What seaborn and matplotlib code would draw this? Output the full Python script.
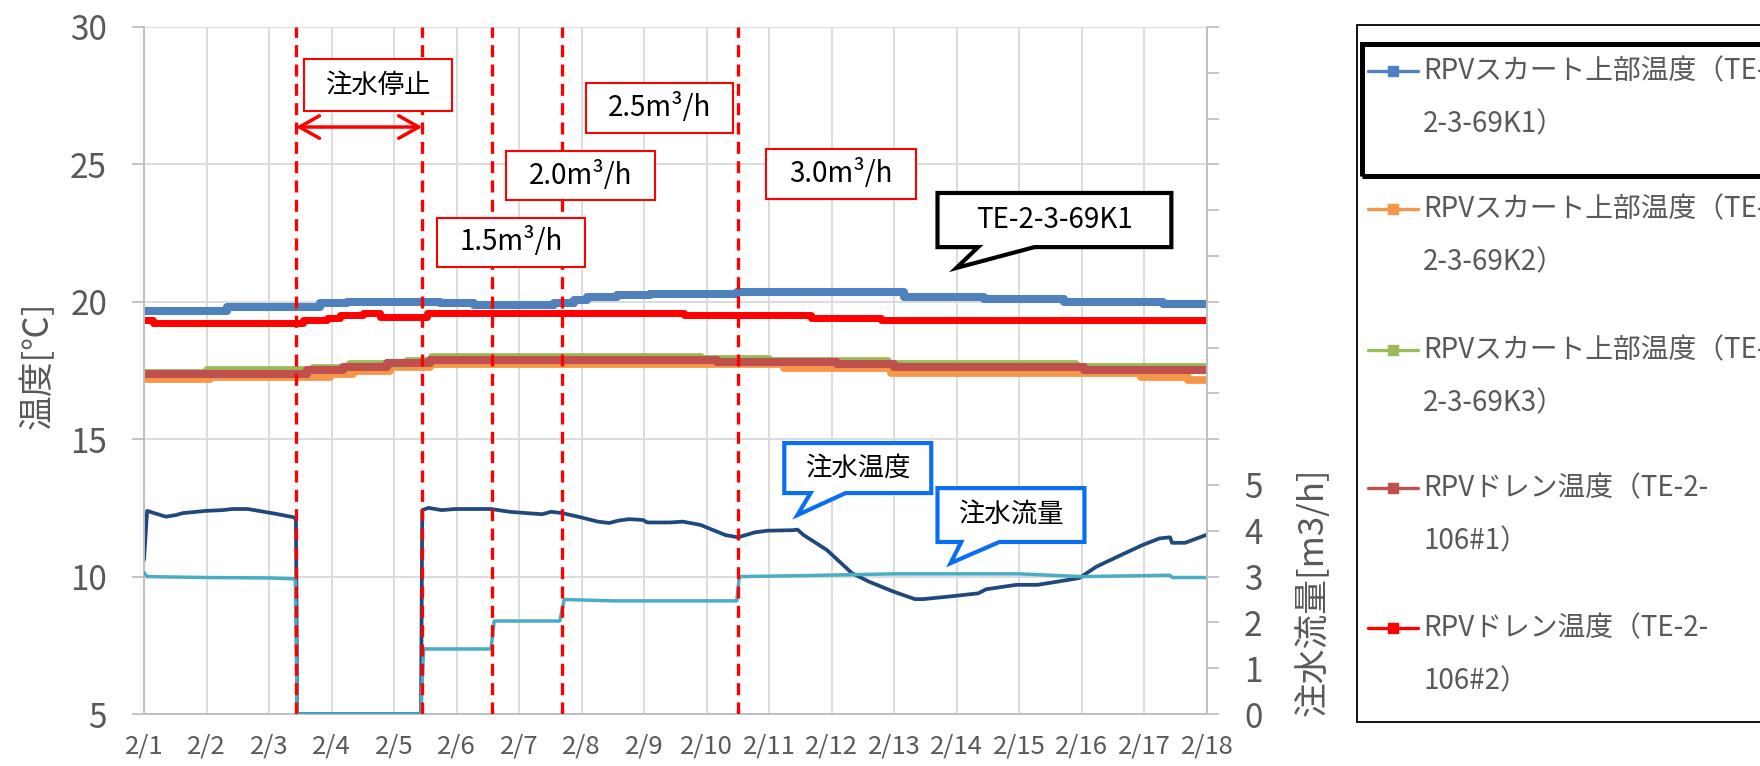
import numpy as np
import pandas as pd
import matplotlib
matplotlib.use('Agg')
import matplotlib.pyplot as plt
import seaborn as sns
from matplotlib.patches import Rectangle, Polygon
from matplotlib.lines import Line2D

# 2/1 からの経過日数で x を持つ
date_labels = [f'2/{i}' for i in range(1, 19)]

# RPVスカート上部温度 TE-2-3-69K1 (青)
k1_day = [0, 1.32, 2.82, 3.24, 4.74, 5.27, 6.55, 6.87, 7.08, 7.56, 8.10, 9.48, 12.15, 13.43, 14.71, 16.3, 17.0]
k1_val = [19.68, 19.82, 19.94, 20.00, 19.94, 19.88, 19.94, 20.07, 20.19, 20.25, 20.29, 20.34, 20.19, 20.09, 19.98, 19.93, 19.93]
# TE-2-3-69K2 (橙)
k2_day = [0, 1.06, 2.98, 3.35, 3.94, 4.58, 10.23, 11.94, 15.94, 16.7, 17.0]
k2_val = [17.18, 17.27, 17.39, 17.48, 17.62, 17.72, 17.58, 17.42, 17.27, 17.14, 17.14]
# TE-2-3-69K3 (緑)
k3_day = [0, 1.0, 2.7, 3.3, 4.2, 4.6, 8.9, 10.0, 11.9, 14.9, 17.0]
k3_val = [17.40, 17.52, 17.60, 17.72, 17.85, 18.00, 17.92, 17.85, 17.74, 17.62, 17.62]
# RPVドレン温度 TE-2-106#1 (茶)
d1_day = [0, 2.60, 3.19, 3.88, 4.58, 9.16, 11.08, 11.99, 15.03, 17.0]
d1_val = [17.37, 17.52, 17.64, 17.76, 17.88, 17.82, 17.74, 17.62, 17.50, 17.50]
# RPVドレン温度 TE-2-106#2 (赤)
d2_day = [0, 0.15, 2.55, 2.92, 3.14, 3.51, 3.78, 4.52, 8.63, 10.66, 11.78, 17.0]
d2_val = [19.34, 19.22, 19.34, 19.40, 19.52, 19.60, 19.46, 19.60, 19.52, 19.42, 19.32, 19.32]

# 注水温度 [℃]
inj_t_day = [0, 0.05, 0.35, 0.51, 0.62, 0.98, 1.26, 1.41, 1.66, 1.84, 2.12, 2.39, 2.43, 2.45, 4.43, 4.45,
             4.55, 4.76, 4.98, 5.55, 5.84, 6.12, 6.37, 6.51, 6.69, 6.98, 7.26, 7.44, 7.59, 7.76, 7.98, 8.05,
             8.41, 8.62, 8.90, 9.30, 9.50, 9.77, 9.97, 10.38, 10.45, 10.55, 10.92, 11.32, 11.59, 11.99, 12.33,
             12.46, 12.94, 13.34, 13.47, 13.95, 14.29, 14.62, 14.96, 15.23, 15.63, 15.97, 16.24, 16.41, 16.44,
             16.65, 16.98]
inj_t_val = [10.6, 12.39, 12.18, 12.24, 12.31, 12.39, 12.42, 12.46, 12.46, 12.39, 12.28, 12.16, 12.1, 5.0, 5.0, 12.42,
             12.5, 12.42, 12.46, 12.46, 12.36, 12.31, 12.27, 12.36, 12.31, 12.16, 12.0, 11.95, 12.04, 12.09, 12.06, 11.97,
             11.97, 12.0, 11.88, 11.51, 11.43, 11.61, 11.67, 11.69, 11.71, 11.51, 10.97, 10.13, 9.82, 9.45, 9.18,
             9.18, 9.29, 9.39, 9.54, 9.7, 9.7, 9.82, 9.95, 10.36, 10.79, 11.15, 11.39, 11.43, 11.23,
             11.23, 11.51]

# 注水流量 [m3/h]
flow_day = [0, 0.05, 1.0, 2.0, 2.42, 2.45, 4.43, 4.47, 5.55, 5.60, 6.65, 6.72, 7.5, 9.48, 9.52, 10.5, 12.0, 14.0, 15.0, 16.40, 16.45, 17.0]
flow_val = [3.09, 3.0, 2.98, 2.97, 2.95, 0, 0, 1.42, 1.42, 2.03, 2.03, 2.5, 2.47, 2.47, 3.0, 3.02, 3.06, 3.06, 3.0, 3.03, 2.98, 2.98]

# 注水条件を変えた時刻
change_days = [2.43, 4.45, 5.57, 6.68, 9.5]

legend_labels = ['RPVスカート上部温度（TE-\n2-3-69K1）', 'RPVスカート上部温度（TE-\n2-3-69K2）',
                 'RPVスカート上部温度（TE-\n2-3-69K3）', 'RPVドレン温度（TE-2-\n106#1）', 'RPVドレン温度（TE-2-\n106#2）']
colors = ['#4F81BD', '#F79646', '#9BBB59', '#C0504D', '#FF0000']
navy = '#1F497D'
cyan = '#4BACC6'
gray_txt = '#595959'

sns.set_theme(style='white')
plt.rcParams['font.family'] = ['Noto Sans CJK JP', 'DejaVu Sans']

fig = plt.figure(figsize=(17.6, 7.66), dpi=100)
ax = fig.add_axes([144 / 1760, 1 - 714 / 766, 1063 / 1760, 687 / 766])
ax2 = ax.twinx()

temp_series = [(k1_day, k1_val, 5.8), (k2_day, k2_val, 5.6), (k3_day, k3_val, 5.6),
               (d1_day, d1_val, 5.8), (d2_day, d2_val, 5.0)]
for (dd, vv, lw), c in zip(temp_series, colors):
    df = pd.DataFrame({'day': dd, 'val': vv})
    sns.lineplot(data=df, x='day', y='val', ax=ax, color=c, lw=lw, estimator=None, sort=False,
                 drawstyle='steps-post', solid_capstyle='butt')

df_t = pd.DataFrame({'day': inj_t_day, 'val': inj_t_val})
sns.lineplot(data=df_t, x='day', y='val', ax=ax, color=navy, lw=2.7, estimator=None, sort=False)
df_f = pd.DataFrame({'day': flow_day, 'val': flow_val})
sns.lineplot(data=df_f, x='day', y='val', ax=ax2, color=cyan, lw=2.5, estimator=None, sort=False)

for d in change_days:
    ax2.axvline(d, color='#FF0000', lw=2.4, ls=(0, (3.6, 2.2)), zorder=5)

# 軸
ax.set_xlim(0, 17)
ax.set_ylim(5, 30)
ax2.set_ylim(0, 15)
ax.set_xticks(range(18))
ax.set_xticklabels(date_labels)
ax.set_yticks(range(5, 31, 5))
ax2.set_yticks(range(16))
ax2.set_yticklabels([str(i) if i <= 5 else '' for i in range(16)])
ax.grid(True, color='#D9D9D9', lw=1.3)
ax2.grid(False)
for s in ['left', 'bottom']:
    ax.spines[s].set_color('#BFBFBF')
    ax.spines[s].set_linewidth(1.4)
ax.spines['top'].set_visible(False)
ax.spines['right'].set_visible(False)
for s in ['left', 'bottom', 'top']:
    ax2.spines[s].set_visible(False)
ax2.spines['right'].set_color('#BFBFBF')
ax2.spines['right'].set_linewidth(1.4)
ax.tick_params(axis='y', left=True, length=8.6, width=1.3, color='#BFBFBF', labelsize=24, labelcolor=gray_txt, pad=18)
ax.tick_params(axis='x', length=0, labelsize=18.5, labelcolor=gray_txt, pad=14)
ax2.tick_params(axis='y', right=True, length=8.6, width=1.3, color='#BFBFBF', labelsize=24, labelcolor=gray_txt, pad=18)
ax.set_xlabel('')
ax.set_ylabel('温度[℃]', fontsize=25, color=gray_txt)
ax.yaxis.set_label_coords((38 - 144) / 1063, 1 - (365 - 27) / 687)
ax.yaxis.label.set_va('center')
ax2.set_ylabel('注水流量[m3/h]', fontsize=25, color=gray_txt)
ax2.yaxis.set_label_coords((1313 - 144) / 1063, 1 - (592 - 27) / 687)
ax2.yaxis.label.set_va('center')

# 注記 (左軸 ℃ の座標で配置)
tr = ax.transData


def red_box(x0, x1, y0, y1, text, size=20):
    ax2.add_patch(Rectangle((x0, y0), x1 - x0, y1 - y0, transform=tr, fc='white', ec='#FF0000', lw=1.5, zorder=8))
    ax2.text((x0 + x1) / 2, (y0 + y1) / 2, text, transform=tr, ha='center', va='center', fontsize=size, color='black', zorder=9)


def callout(x0, x1, y0, y1, bx0, bx1, tip, text, ec, size=20):
    pts = [(x0, y1), (x1, y1), (x1, y0), (bx1, y0), tip, (bx0, y0), (x0, y0)]
    ax2.add_patch(Polygon(pts, closed=True, transform=tr, fc='white', ec=ec, lw=3, joinstyle='miter', zorder=8))
    ax2.text((x0 + x1) / 2, (y0 + y1) / 2, text, transform=tr, ha='center', va='center', fontsize=size, color='black', zorder=9)


red_box(2.56, 4.93, 26.94, 28.84, '注水停止', 19)
red_box(4.69, 7.06, 21.27, 23.05, '1.5m³/h')
red_box(5.79, 8.18, 23.70, 25.49, '2.0m³/h')
red_box(7.07, 9.42, 26.14, 27.96, '2.5m³/h')
red_box(9.95, 12.34, 23.74, 25.56, '3.0m³/h')
ax2.annotate('', xy=(change_days[1], 26.36), xytext=(change_days[0], 26.36), xycoords=tr, textcoords=tr,
             arrowprops=dict(arrowstyle='<->,head_length=0.8,head_width=0.45', color='#FF0000', lw=2.5,
                             mutation_scale=18, shrinkA=0, shrinkB=0), zorder=9)

callout(12.69, 16.43, 21.99, 23.96, 13.34, 14.24, (12.99, 21.23), 'TE-2-3-69K1', 'black')
callout(10.24, 12.59, 13.04, 14.86, 10.66, 11.22, (10.45, 12.24), '注水温度', '#0A6EF5', 19)
callout(12.69, 15.04, 11.26, 13.22, 13.07, 13.68, (12.90, 10.49), '注水流量', '#0A6EF5', 19)

# 凡例 (右側の枠, 元図と同じく図の右端で切れている)
W, H = 1760, 766
fig.add_artist(Rectangle((1357 / W, 1 - 722 / H), 450 / W, 697 / H, transform=fig.transFigure,
                         fc='white', ec='black', lw=1.3))
fig.add_artist(Rectangle((1362 / W, 1 - 176 / H), 450 / W, 132 / H, transform=fig.transFigure,
                         fc='none', ec='black', lw=3.6))
entry_y = [71, 209, 350, 488, 628]
for lab, c, y in zip(legend_labels, colors, entry_y):
    fig.add_artist(Line2D([1368 / W, 1418 / W], [1 - y / H, 1 - y / H], transform=fig.transFigure,
                          color=c, lw=2.4))
    fig.add_artist(Line2D([1393 / W], [1 - y / H], transform=fig.transFigure, color=c, marker='s',
                          markersize=6.5, lw=0))
    line1, line2 = lab.split('\n')
    fig.text(1423 / W, 1 - y / H, line1, fontsize=20, color=gray_txt, va='center', ha='left')
    fig.text(1423 / W, 1 - (y + 53) / H, line2, fontsize=20, color=gray_txt, va='center', ha='left')

fig.savefig('out.png', dpi=100)
